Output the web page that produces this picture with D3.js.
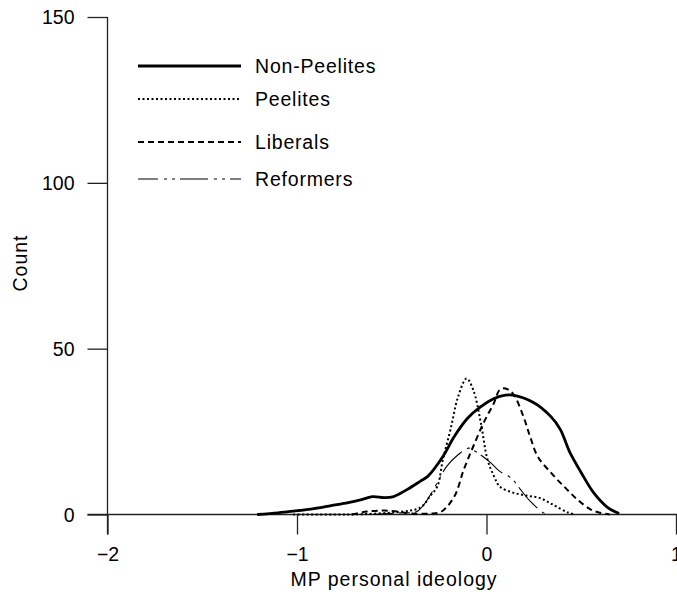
<!DOCTYPE html>
<html>
<head>
<meta charset="utf-8">
<script src="https://cdn.jsdelivr.net/npm/d3@7"></script>
<style>
  html, body { margin: 0; padding: 0; background: #fff; }
  svg text { font-family: "Liberation Sans", Arial, Helvetica, sans-serif; fill: #000; }
</style>
</head>
<body>
<svg id="chart" width="677" height="592"></svg>
<script>
// ---- data ----
const seriesNames = ["Non-Peelites", "Peelites", "Liberals", "Reformers"];
const xTicks = [-2, -1, 0, 1];
const yTicks = [0, 50, 100, 150];

const nonPeelitesX = [-1.21, -1.1, -1.02, -0.91, -0.82, -0.73, -0.66, -0.6, -0.54, -0.49, -0.42, -0.35, -0.31, -0.23, -0.17, -0.1, -0.03, 0.04, 0.1, 0.14, 0.25, 0.34, 0.39, 0.44, 0.5, 0.565, 0.64, 0.7];
const nonPeelitesY = [0, 0.5, 1, 1.8, 2.7, 3.6, 4.5, 5.4, 5.1, 5.4, 7.5, 10, 11.5, 17.5, 23.5, 29, 32.5, 35, 36, 36, 33.7, 29.5, 25.6, 18.7, 12.6, 6.6, 2.1, 0.3];

const peelitesX = [-1.02, -0.8, -0.66, -0.49, -0.4, -0.36, -0.33, -0.3, -0.26, -0.23, -0.19, -0.15, -0.105, -0.07, -0.03, 0.005, 0.04, 0.07, 0.14, 0.21, 0.28, 0.35, 0.43, 0.47];
const peelitesY = [0, 0, 0.1, 0.6, 1.2, 1.8, 3, 5.4, 8.4, 16.6, 25.6, 35.5, 41, 37.6, 27.7, 16.6, 11.5, 8.4, 6.6, 5.7, 5, 3, 0.6, 0];

const liberalsX = [-0.71, -0.63, -0.54, -0.47, -0.4, -0.3, -0.24, -0.17, -0.12, -0.07, -0.015, 0.04, 0.07, 0.1, 0.14, 0.195, 0.23, 0.27, 0.34, 0.41, 0.48, 0.55, 0.6, 0.65];
const liberalsY = [0, 0.9, 1.2, 0.9, 0.3, 0.3, 0.8, 5.4, 13.5, 20.5, 27.7, 33.7, 37.6, 38, 36.4, 29.5, 23.5, 17.5, 12.6, 8.4, 4.5, 1.5, 0.5, 0];

const reformersX = [-0.6, -0.45, -0.37, -0.33, -0.28, -0.21, -0.15, -0.095, -0.05, 0.02, 0.07, 0.13, 0.18, 0.23, 0.3, 0.32];
const reformersY = [0, 0.5, 0.8, 3, 7.5, 14.5, 18, 20, 18.7, 15.7, 13, 11, 7.5, 4, 0.5, 0];

// ---- layout ----
const svg = d3.select("#chart");
const x = d3.scaleLinear().domain([-2, 1]).range([107.5, 676]);
const y = d3.scaleLinear().domain([0, 150]).range([514.5, 17]);
const tickLen = 20;

const styles = [
  { width: 2.8, dash: null, offset: 0 },
  { width: 2, dash: "2,2.5", offset: 0 },
  { width: 2, dash: "6,4", offset: 0 },
  { width: 1.1, dash: "28,6,3,5,3,5", offset: 8 }
];
const xs = [nonPeelitesX, peelitesX, liberalsX, reformersX];
const ys = [nonPeelitesY, peelitesY, liberalsY, reformersY];

// axes
const axisColor = "#222";
const gx = svg.append("g").attr("transform", `translate(0,${y(0)})`)
  .call(d3.axisBottom(x).tickValues(xTicks).tickSize(tickLen).tickSizeOuter(0)
        .tickFormat(d => d < 0 ? "\u2212" + Math.abs(d) : String(d)));
gx.select(".domain").attr("d", `M${x(-2) - tickLen},0H677`);
gx.selectAll("line, path").attr("stroke", axisColor).attr("stroke-width", 1.3);
gx.selectAll("text").attr("font-size", 19.5).attr("y", 46).attr("dy", 0).attr("fill", "#000");

const gy = svg.append("g").attr("transform", `translate(${x(-2)},0)`)
  .call(d3.axisLeft(y).tickValues(yTicks).tickSize(tickLen).tickSizeOuter(0));
gy.select(".domain").attr("d", `M0,${y(150)}V${y(0) + tickLen}`);
gy.selectAll("line, path").attr("stroke", axisColor).attr("stroke-width", 1.3);
gy.selectAll("text").attr("font-size", 19.5).attr("x", -33).attr("dy", "0.35em").attr("fill", "#000");
svg.selectAll(".tick text").style("font-family", '"Liberation Sans", Arial, sans-serif');

// axis titles
svg.append("text").attr("x", 394).attr("y", 586).attr("text-anchor", "middle")
  .attr("font-size", 19.5).attr("letter-spacing", 1).text("MP personal ideology");
svg.append("text").attr("transform", "translate(27,263) rotate(-90)").attr("text-anchor", "middle")
  .attr("font-size", 19.5).attr("letter-spacing", 1).text("Count");

// curves
const line = d3.line().x(d => x(d[0])).y(d => y(d[1])).curve(d3.curveCatmullRom.alpha(0.5));
seriesNames.forEach((name, i) => {
  const pts = xs[i].map((v, j) => [v, ys[i][j]]);
  const p = svg.append("path").datum(pts).attr("d", line)
    .attr("fill", "none").attr("stroke", "#000")
    .attr("stroke-width", styles[i].width)
    .attr("stroke-linejoin", "round");
  if (styles[i].dash) p.attr("stroke-dasharray", styles[i].dash).attr("stroke-dashoffset", styles[i].offset);
});

// legend
const legendY = [66, 99, 142, 179];
seriesNames.forEach((name, i) => {
  const l = svg.append("line").attr("x1", 138).attr("x2", 241)
    .attr("y1", legendY[i]).attr("y2", legendY[i])
    .attr("stroke", "#000").attr("stroke-width", styles[i].width);
  if (styles[i].dash) l.attr("stroke-dasharray", styles[i].dash).attr("stroke-dashoffset", styles[i].offset);
  svg.append("text").attr("x", 255).attr("y", legendY[i]).attr("dy", "0.36em")
    .attr("font-size", 19.5).attr("letter-spacing", 0.8).text(name);
});
</script>
</body>
</html>
